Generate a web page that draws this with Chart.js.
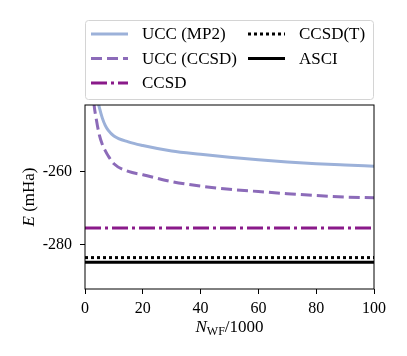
<!DOCTYPE html>
<html>
<head>
<meta charset="utf-8">
<script src="https://cdn.jsdelivr.net/npm/chart.js@4.4.1/dist/chart.umd.min.js"></script>
<style>
  html, body { margin: 0; padding: 0; background: #fff; }
</style>
</head>
<body>
<canvas id="energy" width="407" height="356"></canvas>
<script>
// wavefunction size (in thousands) and energies in mHa
const wfSizes = [2, 3, 4, 5, 6, 7, 8, 10, 15, 20, 30, 40, 50, 60, 70, 80, 90, 100]
const uccMp2 = [-228, -234, -239, -242.5, -245.3, -247.3, -248.6, -250.2, -251.8, -252.8, -254.3, -255.2, -256, -256.7, -257.3, -257.8, -258.15, -258.45]
const uccCcsd = [-228, -240.5, -246, -250, -252.5, -254.2, -255.6, -257.8, -259.9, -260.8, -262.7, -263.9, -264.8, -265.4, -266, -266.5, -266.9, -267.1]
const xRange = [0, 100]
const ccsdEnergy = -275.4
const ccsdTEnergy = -283.5
const asciEnergy = -284.8
const xTicks = [0, 20, 40, 60, 80, 100]
const yTicks = [-280, -260]

const serif = "'Liberation Serif', 'DejaVu Serif', serif"

function curve (ys) {
  return wfSizes.map((x, i) => ({ x: x, y: ys[i] }))
}
function flat (y) {
  return xRange.map((x) => ({ x: x, y: y }))
}

// legend box, axis titles and frame (matplotlib look)
const decorations = {
  id: 'decorations',
  afterDatasetsDraw (chart) {
    const ctx = chart.ctx
    const a = chart.chartArea
    ctx.save()
    ctx.strokeStyle = '#000'
    ctx.lineWidth = 1
    ctx.strokeRect(a.left, a.top, a.right - a.left, a.bottom - a.top)
    ctx.restore()
  },
  afterDraw (chart) {
    const ctx = chart.ctx
    const a = chart.chartArea
    ctx.save()

    // legend frame
    ctx.beginPath()
    ctx.roundRect(85.5, 20.5, 288, 79, 3)
    ctx.fillStyle = 'rgba(255,255,255,0.8)'
    ctx.fill()
    ctx.strokeStyle = '#d4d4d4'
    ctx.lineWidth = 1
    ctx.stroke()

    const slots = [
      [91, 34], [91, 58.5], [91, 83],
      [248, 34], [248, 58.5]
    ]
    chart.data.datasets.forEach((ds, i) => {
      const [x, y] = slots[i]
      ctx.beginPath()
      ctx.setLineDash(ds.borderDash || [])
      ctx.strokeStyle = ds.borderColor
      ctx.lineWidth = ds.borderWidth
      ctx.moveTo(x, y)
      ctx.lineTo(x + 37, y)
      ctx.stroke()
      ctx.setLineDash([])
      ctx.fillStyle = '#000'
      ctx.font = '17px ' + serif
      ctx.textBaseline = 'middle'
      ctx.textAlign = 'left'
      ctx.fillText(ds.label, x + 51, y + 1)
    })

    // x title: N_WF/1000
    ctx.fillStyle = '#000'
    ctx.textBaseline = 'alphabetic'
    ctx.textAlign = 'left'
    const big = '17px ' + serif
    const bigIt = 'italic 17px ' + serif
    const small = '12px ' + serif
    ctx.font = bigIt
    const wN = ctx.measureText('N').width
    ctx.font = small
    const wSub = ctx.measureText('WF').width
    ctx.font = big
    const wRest = ctx.measureText('/1000').width
    let xPos = (a.left + a.right) / 2 - (wN + wSub + wRest) / 2
    const base = 332
    ctx.font = bigIt
    ctx.fillText('N', xPos, base)
    xPos += wN
    ctx.font = small
    ctx.fillText('WF', xPos, base + 3)
    xPos += wSub
    ctx.font = big
    ctx.fillText('/1000', xPos, base)

    // y title: E (mHa)
    ctx.translate(34, (a.top + a.bottom) / 2)
    ctx.rotate(-Math.PI / 2)
    ctx.font = bigIt
    const wE = ctx.measureText('E').width
    ctx.font = big
    const wUnit = ctx.measureText(' (mHa)').width
    let yPos = -(wE + wUnit) / 2
    ctx.font = bigIt
    ctx.fillText('E', yPos, 0)
    yPos += wE
    ctx.font = big
    ctx.fillText(' (mHa)', yPos, 0)
    ctx.restore()
  }
}

const chart = new Chart(
  document.getElementById('energy').getContext('2d'),
  {
    type: 'line',
    data: {
      datasets: [
        {
          label: 'UCC (MP2)',
          data: curve(uccMp2),
          borderColor: '#9cb1d9',
          borderWidth: 3,
          cubicInterpolationMode: 'monotone',
          pointRadius: 0,
          clip: 0
        },
        {
          label: 'UCC (CCSD)',
          data: curve(uccCcsd),
          borderColor: '#8c6bb9',
          borderWidth: 3,
          borderDash: [11, 5],
          cubicInterpolationMode: 'monotone',
          pointRadius: 0,
          clip: 0
        },
        {
          label: 'CCSD',
          data: flat(ccsdEnergy),
          borderColor: '#8a1a8a',
          borderWidth: 3,
          borderDash: [16, 4, 3, 4],
          pointRadius: 0,
          clip: 0
        },
        {
          label: 'CCSD(T)',
          data: flat(ccsdTEnergy),
          borderColor: '#000',
          borderWidth: 3,
          borderDash: [3, 3],
          pointRadius: 0,
          clip: 0
        },
        {
          label: 'ASCI',
          data: flat(asciEnergy),
          borderColor: '#000',
          borderWidth: 3,
          pointRadius: 0,
          clip: 0
        }
      ]
    },
    options: {
      responsive: false,
      animation: false,
      layout: { padding: { top: 105, right: 33, left: 0, bottom: 0 } },
      plugins: {
        legend: { display: false },
        tooltip: { enabled: false }
      },
      scales: {
        x: {
          type: 'linear',
          min: xRange[0],
          max: xRange[1],
          afterFit: (scale) => { scale.height = 67 },
          afterBuildTicks: (scale) => { scale.ticks = xTicks.map((v) => ({ value: v })) },
          border: { display: false },
          grid: { drawOnChartArea: false, drawTicks: true, tickLength: 5, tickColor: '#000' },
          ticks: {
            padding: 5,
            color: '#000',
            maxRotation: 0,
            font: { family: serif, size: 16 }
          }
        },
        y: {
          min: -292.1,
          max: -241.7,
          afterFit: (scale) => { scale.width = 85 },
          afterBuildTicks: (scale) => { scale.ticks = yTicks.map((v) => ({ value: v })) },
          border: { display: false },
          grid: { drawOnChartArea: false, drawTicks: true, tickLength: 5, tickColor: '#000' },
          ticks: {
            padding: 8,
            color: '#000',
            font: { family: serif, size: 16 },
            callback: (value) => String(value)
          }
        }
      }
    },
    plugins: [decorations]
  }
)
</script>
</body>
</html>
